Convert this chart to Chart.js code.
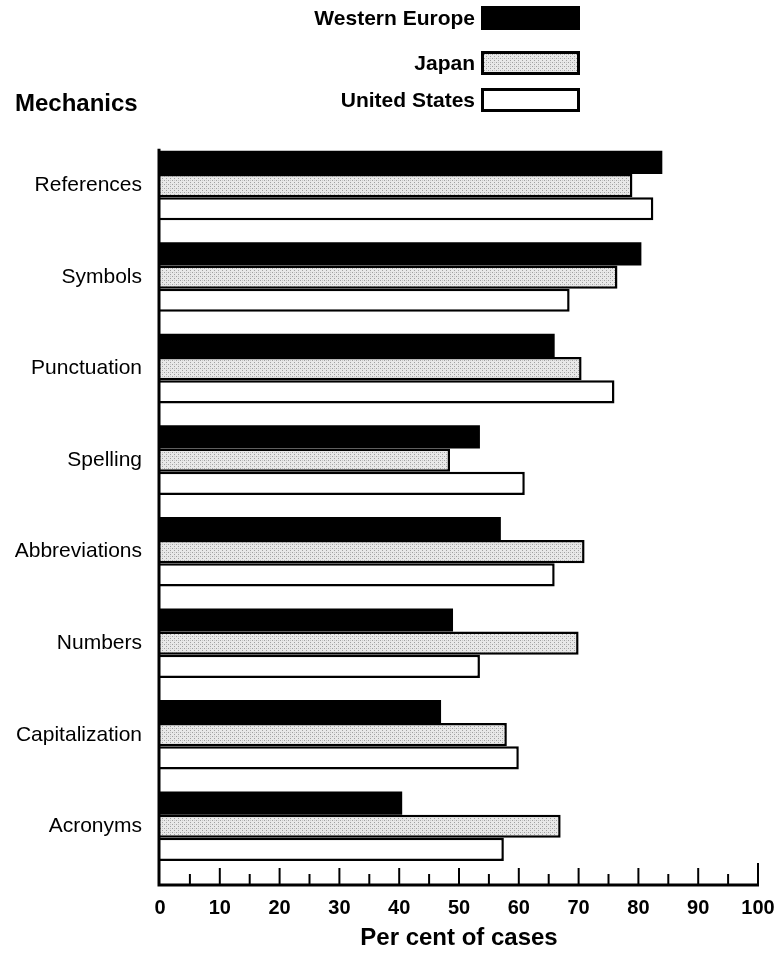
<!DOCTYPE html>
<html>
<head>
<meta charset="utf-8">
<script src="https://cdn.jsdelivr.net/npm/chart.js@4/dist/chart.umd.min.js"></script>
<style>
  html, body { margin: 0; padding: 0; overflow: hidden; background: #fff; font-family: "Liberation Sans", Arial, Helvetica, sans-serif; }
  #wrap { position: relative; width: 782px; height: 953px; }
  #grafico { display: block; }
  #legenda { position: absolute; left: 0; top: 0; width: 782px; height: 120px; }
  .item { position: absolute; right: 202px; display: flex; align-items: center; }
  .item span { font-weight: bold; font-size: 21px; color: #000; margin-right: 6px; }
  .item i { display: block; width: 93px; height: 18px; border: 3px solid #000; }
</style>
</head>
<body>
<div id="wrap">
  <canvas id="grafico" width="782" height="953"></canvas>
  <div id="legenda"></div>
</div>
<script>
// dados
const categorias = ['References', 'Symbols', 'Punctuation', 'Spelling', 'Abbreviations', 'Numbers', 'Capitalization', 'Acronyms'];
const series = ['Western Europe', 'Japan', 'United States'];
const europa = [84, 80.5, 66, 53.5, 57, 49, 47, 40.5];
const japao = [79, 76.5, 70.5, 48.5, 71, 70, 58, 67];
const eua = [82.5, 68.5, 76, 61, 66, 53.5, 60, 57.5];
const ticksX = [0, 10, 20, 30, 40, 50, 60, 70, 80, 90, 100];

const fonte = '"Liberation Sans", Arial, Helvetica, sans-serif';

// padrão pontilhado para o Japão
function pontilhado() {
    const c = document.createElement('canvas');
    c.width = 4; c.height = 4;
    const g = c.getContext('2d');
    g.fillStyle = '#e8e8e8';
    g.fillRect(0, 0, 4, 4);
    g.fillStyle = '#a0a0a0';
    g.fillRect(0, 0, 1, 1);
    g.fillRect(2, 2, 1, 1);
    g.fillStyle = '#c8c8c8';
    g.fillRect(2, 0, 1, 1);
    return c;
}
const padrao = pontilhado();
const ctx = document.getElementById('grafico');
const fillJapao = ctx.getContext('2d').createPattern(padrao, 'repeat');

// legenda em HTML (texto à esquerda, caixa à direita)
const legendaTops = [6, 51, 88];
const legendaFundo = ['#000', 'url(' + padrao.toDataURL() + ')', '#fff'];
const legenda = document.getElementById('legenda');
series.forEach((nome, i) => {
    const d = document.createElement('div');
    d.className = 'item';
    d.style.top = legendaTops[i] + 'px';
    d.innerHTML = '<span>' + nome + '</span><i></i>';
    d.querySelector('i').style.background = legendaFundo[i];
    legenda.appendChild(d);
});

// eixo inferior com marcas para dentro
const eixo = {
    id: 'eixo',
    afterDatasetsDraw(chart) {
        const g = chart.ctx;
        const x = chart.scales.x;
        const area = chart.chartArea;
        const base = area.bottom + 13;
        const x0 = x.getPixelForValue(0);
        g.save();
        g.strokeStyle = '#000';
        g.lineWidth = 3;
        g.beginPath();
        g.moveTo(x0 - 1, area.top + 9);
        g.lineTo(x0 - 1, base);
        g.lineTo(x.getPixelForValue(100) + 1, base);
        g.stroke();
        g.lineWidth = 2;
        for (let v = 5; v <= 100; v += 5) {
            const h = v === 100 ? 22 : (v % 10 === 0 ? 17 : 11);
            const px = x.getPixelForValue(v);
            g.beginPath();
            g.moveTo(px, base);
            g.lineTo(px, base - h);
            g.stroke();
        }
        g.restore();
    }
};

new Chart(ctx, {
    type: 'bar',
    data: {
        labels: categorias,
        datasets: [
            { label: series[0], data: europa, backgroundColor: '#000', borderWidth: 0 },
            { label: series[1], data: japao, backgroundColor: fillJapao, borderColor: '#000', borderWidth: 2.5 },
            { label: series[2], data: eua, backgroundColor: '#fff', borderColor: '#000', borderWidth: 2.5 }
        ]
    },
    options: {
        indexAxis: 'y',
        responsive: false,
        animation: false,
        datasets: { bar: { categoryPercentage: 0.76, barPercentage: 1 } },
        layout: { padding: { top: 0, right: 24, bottom: 0, left: 15 } },
        plugins: {
            legend: { display: false },
            tooltip: { enabled: false },
            title: {
                display: true,
                text: 'Mechanics',
                align: 'start',
                color: '#000',
                font: { family: fonte, size: 24, weight: 'bold' },
                padding: { top: 90, bottom: 21 }
            }
        },
        scales: {
            x: {
                min: 0,
                max: 100,
                afterBuildTicks(scale) { scale.ticks = ticksX.map(v => ({ value: v })); },
                afterFit(scale) {
                    scale.height = 81;
                    scale.paddingLeft = 0;
                    scale.paddingRight = 0;
                },
                grid: { display: false, drawTicks: false },
                border: { display: false },
                ticks: { color: '#000', padding: 24, font: { family: fonte, size: 20, weight: 'bold' } },
                title: {
                    display: true,
                    text: 'Per cent of cases',
                    color: '#000',
                    font: { family: fonte, size: 24, weight: 'bold' },
                    padding: { top: 0, bottom: 0 }
                }
            },
            y: {
                afterFit(scale) { scale.width = 145; },
                grid: { display: false, drawTicks: false },
                border: { display: false },
                ticks: { color: '#000', padding: 18, font: { family: fonte, size: 21 } }
            }
        }
    },
    plugins: [eixo]
});
</script>
</body>
</html>
